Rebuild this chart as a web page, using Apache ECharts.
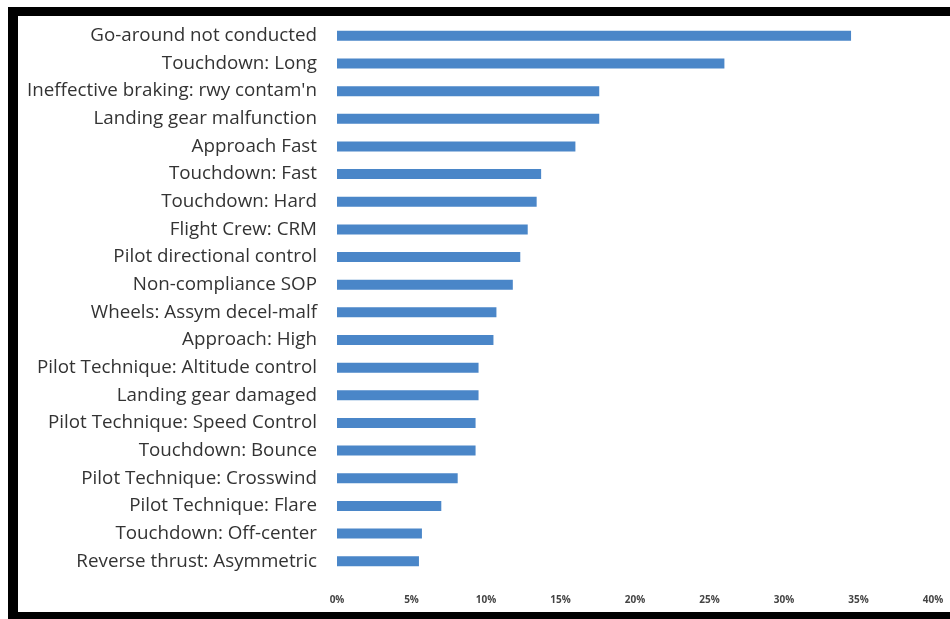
<!DOCTYPE html>
<html>
<head>
<meta charset="utf-8">
<script src="https://cdn.jsdelivr.net/npm/echarts@6/dist/echarts.min.js"></script>
<style>
html,body{margin:0;padding:0;background:#fff;}
#c{width:950px;height:619px;}
</style>
</head>
<body>
<div id="c"></div>
<script>
var categories = [
  "Go-around not conducted",
  "Touchdown: Long",
  "Ineffective braking: rwy contam'n",
  "Landing gear malfunction",
  "Approach Fast",
  "Touchdown: Fast",
  "Touchdown: Hard",
  "Flight Crew: CRM",
  "Pilot directional control",
  "Non-compliance SOP",
  "Wheels: Assym decel-malf",
  "Approach: High",
  "Pilot Technique: Altitude control",
  "Landing gear damaged",
  "Pilot Technique: Speed Control",
  "Touchdown: Bounce",
  "Pilot Technique: Crosswind",
  "Pilot Technique: Flare",
  "Touchdown: Off-center",
  "Reverse thrust: Asymmetric"
];
var percentages = [34.5, 26.0, 17.6, 17.6, 16.0, 13.7, 13.4, 12.8, 12.3, 11.8, 10.7, 10.5, 9.5, 9.5, 9.3, 9.3, 8.1, 7.0, 5.7, 5.5];
var xTicks = [0, 5, 10, 15, 20, 25, 30, 35, 40];

var chart = echarts.init(document.getElementById('c'), null, {renderer: 'canvas'});
chart.setOption({
  animation: false,
  backgroundColor: '#ffffff',
  grid: {left: 337, right: 17, top: 22, bottom: 44, containLabel: false},
  xAxis: {
    type: 'value',
    min: xTicks[0],
    max: xTicks[xTicks.length - 1],
    interval: 5,
    axisLine: {show: false},
    axisTick: {show: false},
    splitLine: {show: false},
    axisLabel: {
      formatter: function (v) { return v + '%'; },
      color: '#444',
      fontSize: 10,
      fontWeight: 'bold',
      fontFamily: 'Open Sans',
      margin: 20
    }
  },
  yAxis: {
    type: 'category',
    data: categories,
    inverse: true,
    axisLine: {show: false},
    axisTick: {show: false},
    axisLabel: {
      color: '#333',
      fontSize: 18.8,
      fontFamily: 'Open Sans',
      margin: 20
    }
  },
  series: [{
    type: 'bar',
    data: percentages,
    barWidth: 10,
    itemStyle: {color: '#4a86c8'}
  }],
  graphic: [
    {type: 'rect', shape: {x: 8, y: 7, width: 942, height: 9}, style: {fill: '#000'}},
    {type: 'rect', shape: {x: 8, y: 7, width: 10, height: 612}, style: {fill: '#000'}},
    {type: 'rect', shape: {x: 8, y: 612, width: 942, height: 7}, style: {fill: '#000'}}
  ]
});
</script>
</body>
</html>
